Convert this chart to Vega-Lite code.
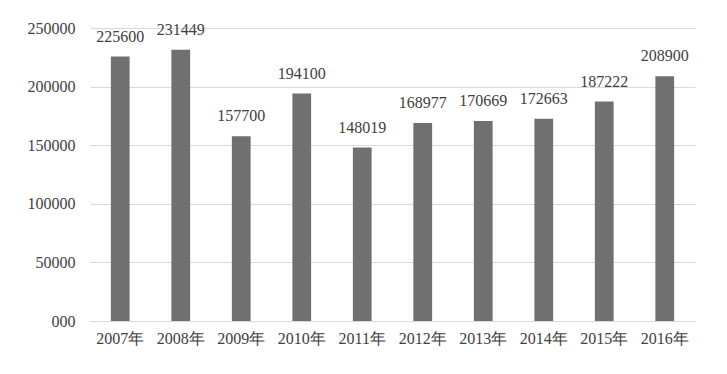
{
  "$schema": "https://vega.github.io/schema/vega-lite/v6.json",
  "autosize": {"type": "none"},
  "padding": {"left": 90, "top": 28, "right": 32, "bottom": 53},
  "width": 605,
  "height": 293,
  "background": "white",
  "config": {"view": {"stroke": null}, "font": "Liberation Serif", "axis": {"labelFont": "Liberation Serif, serif"}},
  "data": {"values": [
    {"year": "2007年", "value": 225600},
    {"year": "2008年", "value": 231449},
    {"year": "2009年", "value": 157700},
    {"year": "2010年", "value": 194100},
    {"year": "2011年", "value": 148019},
    {"year": "2012年", "value": 168977},
    {"year": "2013年", "value": 170669},
    {"year": "2014年", "value": 172663},
    {"year": "2015年", "value": 187222},
    {"year": "2016年", "value": 208900}
  ]},
  "encoding": {
    "x": {"field": "year", "type": "nominal", "sort": null,
      "scale": {"paddingInner": 0.69, "paddingOuter": 0.345},
      "axis": {"title": null, "labelAngle": 0, "ticks": false, "domain": true, "domainColor": "#d9d9d9",
        "labelFont": "Liberation Serif, serif", "labelFontSize": 16, "labelColor": "#404040", "labelPadding": 9}},
    "y": {"field": "value", "type": "quantitative",
      "scale": {"domain": [0, 250000], "nice": false},
      "axis": {"title": null, "values": [0, 50000, 100000, 150000, 200000, 250000], "format": "d",
        "labelExpr": "datum.value == 0 ? '000' : datum.label", "labelFont": "Liberation Serif, serif",
        "ticks": false, "domain": false, "gridColor": "#d9d9d9", "labelFontSize": 16, "labelColor": "#404040", "labelPadding": 15}}
  },
  "layer": [
    {"mark": {"type": "bar", "color": "#707070"}},
    {"mark": {"type": "text", "baseline": "bottom", "dy": -12, "fontSize": 16, "color": "#404040", "font": "Liberation Serif, serif"},
      "encoding": {"text": {"field": "value", "type": "quantitative", "format": "d"}}}
  ]
}
